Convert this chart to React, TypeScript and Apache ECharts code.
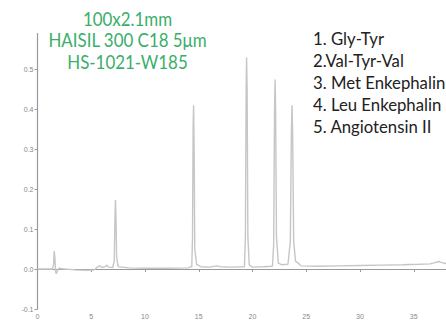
import React, { useEffect, useRef } from "react";
import * as echarts from "echarts";

// Chromatogram trace: [minutes, absorbance]
const trace: [number, number][] = [
  [0, 0.0], [1.0, 0.0], [1.4, 0.0], [1.5, 0.012], [1.55, 0.045], [1.62, 0.028],
  [1.68, -0.005], [1.75, -0.012], [1.85, -0.004], [2.0, 0.002], [2.5, 0.0],
  [3.5, -0.002], [4.5, -0.003], [5.3, -0.002], [5.6, 0.006], [5.8, 0.008],
  [6.0, 0.004], [6.3, 0.006], [6.45, 0.01], [6.6, 0.005], [7.0, 0.004],
  [7.14, 0.02], [7.2, 0.12], [7.25, 0.173], [7.3, 0.13], [7.36, 0.03],
  [7.5, 0.006], [8.5, 0.003], [10, 0.002], [12, 0.002], [14, 0.003],
  [14.35, 0.006], [14.42, 0.08], [14.48, 0.36], [14.52, 0.41], [14.57, 0.3],
  [14.63, 0.05], [14.8, 0.012], [15.2, 0.006], [16, 0.005], [16.7, 0.008],
  [17, 0.006], [18, 0.005], [19.25, 0.006], [19.34, 0.08], [19.41, 0.45],
  [19.45, 0.53], [19.5, 0.45], [19.57, 0.08], [19.7, 0.01], [20, 0.005],
  [21, 0.006], [21.85, 0.007], [21.97, 0.06], [22.05, 0.4], [22.1, 0.475],
  [22.15, 0.4], [22.23, 0.08], [22.4, 0.015], [22.7, 0.011], [23.3, 0.012],
  [23.52, 0.07], [23.62, 0.35], [23.68, 0.41], [23.74, 0.33], [23.83, 0.07],
  [24.0, 0.02], [24.3, 0.014], [24.5, 0.008], [26, 0.007], [28, 0.008],
  [30, 0.009], [32, 0.01], [34, 0.011], [35.5, 0.012], [36.5, 0.013],
  [37.0, 0.016], [37.3, 0.019], [37.6, 0.016], [38.0, 0.014], [40, 0.014],
];

const columnInfo = ["100x2.1mm", "HAISIL 300 C18 5μm", "HS-1021-W185"];
const peakNames = [
  "1. Gly-Tyr",
  "2.Val-Tyr-Val",
  "3. Met Enkephalin",
  "4. Leu Enkephalin",
  "5. Angiotensin II",
];

const FONT = "Lato, 'Open Sans', sans-serif";

export default function App() {
  const ref = useRef<HTMLDivElement>(null);
  useEffect(() => {
    const chart = echarts.init(ref.current!, undefined, { renderer: "svg" });
    const graphics: any[] = [];
    columnInfo.forEach((t, i) => {
      graphics.push({
        type: "text",
        x: 127.5,
        y: 18.5 + i * 21.5,
        scaleX: 0.89,
        style: {
          text: t,
          fill: "#3aae6a",
          font: `19px ${FONT}`,
          align: "center",
          verticalAlign: "middle",
        },
      });
    });
    peakNames.forEach((t, i) => {
      graphics.push({
        type: "text",
        x: 313,
        y: 38.5 + i * 22,
        scaleX: 0.93,
        style: {
          text: t,
          fill: "#222",
          font: `18px ${FONT}`,
          align: "left",
          verticalAlign: "middle",
        },
      });
    });
    chart.setOption({
      animation: false,
      grid: {
        left: 37.5,
        width: 430,
        top: 33.5,
        bottom: 15,
        outerBoundsMode: "none",
        containLabel: false,
      },
      xAxis: {
        type: "value",
        min: 0,
        max: 40,
        interval: 5,
        name: "Minutes",
        nameLocation: "middle",
        nameGap: 7,
        nameTextStyle: { fontSize: 6, color: "#777", verticalAlign: "top" },
        axisLine: { lineStyle: { color: "#999", width: 1.2 } },
        axisTick: { length: 3, lineStyle: { color: "#999" } },
        axisLabel: { fontSize: 7, color: "#888", margin: 4, showMaxLabel: false },
        splitLine: { show: false },
      },
      yAxis: {
        type: "value",
        min: -0.1,
        max: 0.59,
        interval: 0.1,
        axisLine: { show: true, lineStyle: { color: "#999", width: 1.2 } },
        axisTick: { show: true, length: 3, lineStyle: { color: "#999" } },
        axisLabel: {
          fontSize: 7,
          color: "#888",
          margin: 4,
          showMaxLabel: false,
          formatter: (v: number) => v.toFixed(1),
        },
        splitLine: { show: false },
      },
      series: [
        {
          type: "line",
          data: trace,
          showSymbol: false,
          lineStyle: { color: "#c6c6c6", width: 1.4 },
        },
      ],
      graphic: graphics,
    });
    return () => chart.dispose();
  }, []);
  return (
    <div
      ref={ref}
      style={{ position: "absolute", left: 0, top: 0, width: 446, height: 324 }}
    />
  );
}
